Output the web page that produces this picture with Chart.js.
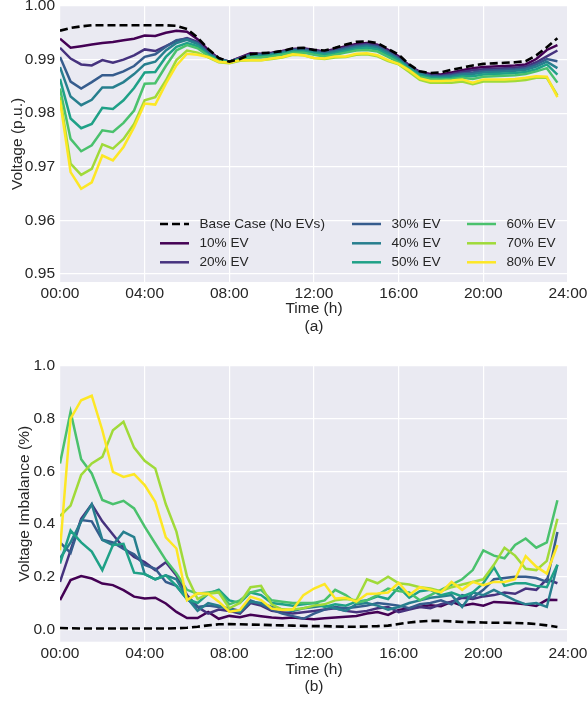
<!DOCTYPE html>
<html>
<head>
<meta charset="utf-8">
<script src="https://cdn.jsdelivr.net/npm/chart.js@4.4.1/dist/chart.umd.min.js"></script>
<style>
  html, body { margin: 0; padding: 0; background: #fff; }
  #wrap { position: relative; width: 588px; height: 701px; }
  canvas { position: absolute; left: 0; }
</style>
</head>
<body>
<div id="wrap">
  <canvas id="chartA" width="588" height="350" style="top:0px"></canvas>
  <canvas id="chartB" width="588" height="351" style="top:350px"></canvas>
</div>
<script>
// time axis (h), one point every 30 min
const hours = [0, 0.5, 1, 1.5, 2, 2.5, 3, 3.5, 4, 4.5, 5, 5.5,
  6, 6.5, 7, 7.5, 8, 8.5, 9, 9.5, 10, 10.5, 11, 11.5,
  12, 12.5, 13, 13.5, 14, 14.5, 15, 15.5, 16, 16.5, 17, 17.5,
  18, 18.5, 19, 19.5, 20, 20.5, 21, 21.5, 22, 22.5, 23, 23.5];

const xTickVals = [0, 4, 8, 12, 16, 20, 24];
const xTickLabels = ['00:00', '04:00', '08:00', '12:00', '16:00', '20:00', '24:00'];
const yTickValsA = [0.95, 0.96, 0.97, 0.98, 0.99, 1.00];
const yTickLabelsA = ['0.95', '0.96', '0.97', '0.98', '0.99', '1.00'];
const yTickValsB = [0, 0.2, 0.4, 0.6, 0.8, 1.0];
const yTickLabelsB = ['0.0', '0.2', '0.4', '0.6', '0.8', '1.0'];

const seriesNames = ['Base Case (No EVs)', '10% EV', '20% EV', '30% EV', '40% EV', '50% EV', '60% EV', '70% EV', '80% EV'];
const seriesColors = ['#000000', '#440154', '#46327e', '#365c8d', '#277f8e', '#1fa187', '#4ac16d', '#a0da39', '#fde725'];

// (a) voltage, p.u.
const voltBase = [0.9954, 0.9959, 0.9962, 0.9964, 0.9964, 0.9964, 0.9964, 0.9964, 0.9964, 0.9964, 0.9964, 0.9963,
  0.9957, 0.9941, 0.9920, 0.9903, 0.9896, 0.9901, 0.9910, 0.9912, 0.9913, 0.9916, 0.9921, 0.9922,
  0.9918, 0.9917, 0.9922, 0.9928, 0.9933, 0.9934, 0.9931, 0.9920, 0.9909, 0.9891, 0.9878, 0.9875,
  0.9876, 0.9881, 0.9885, 0.9889, 0.9892, 0.9893, 0.9894, 0.9895, 0.9897, 0.9908, 0.9923, 0.9940];
const volt10 = [0.9939, 0.9922, 0.9925, 0.9928, 0.9931, 0.9933, 0.9936, 0.9939, 0.9945, 0.9944, 0.9950, 0.9954,
  0.9952, 0.9938, 0.9918, 0.9902, 0.9896, 0.9904, 0.9912, 0.9911, 0.9913, 0.9916, 0.9920, 0.9921,
  0.9918, 0.9915, 0.9920, 0.9925, 0.9929, 0.9931, 0.9928, 0.9918, 0.9906, 0.9889, 0.9877, 0.9873,
  0.9872, 0.9876, 0.9880, 0.9884, 0.9886, 0.9887, 0.9888, 0.9889, 0.9891, 0.9901, 0.9918, 0.9927];
const volt20 = [0.9922, 0.9902, 0.9891, 0.9889, 0.9899, 0.9894, 0.9900, 0.9908, 0.9919, 0.9916, 0.9925, 0.9935,
  0.9940, 0.9933, 0.9915, 0.9901, 0.9896, 0.9903, 0.9910, 0.9910, 0.9912, 0.9915, 0.9919, 0.9920,
  0.9917, 0.9914, 0.9918, 0.9923, 0.9927, 0.9929, 0.9926, 0.9916, 0.9904, 0.9888, 0.9876, 0.9871,
  0.9870, 0.9873, 0.9877, 0.9880, 0.9882, 0.9883, 0.9884, 0.9885, 0.9887, 0.9895, 0.9906, 0.9917];
const volt30 = [0.9905, 0.9859, 0.9846, 0.9858, 0.9871, 0.9871, 0.9878, 0.9888, 0.9905, 0.9910, 0.9924, 0.9936,
  0.9939, 0.9931, 0.9913, 0.9901, 0.9896, 0.9902, 0.9909, 0.9909, 0.9911, 0.9914, 0.9918, 0.9919,
  0.9915, 0.9913, 0.9916, 0.9921, 0.9925, 0.9927, 0.9924, 0.9914, 0.9902, 0.9886, 0.9874, 0.9870,
  0.9869, 0.9871, 0.9874, 0.9876, 0.9879, 0.9880, 0.9881, 0.9882, 0.9884, 0.9891, 0.9901, 0.9897];
const volt40 = [0.9886, 0.9831, 0.9815, 0.9825, 0.9848, 0.9848, 0.9858, 0.9873, 0.9891, 0.9896, 0.9917, 0.9931,
  0.9937, 0.9929, 0.9911, 0.9900, 0.9896, 0.9901, 0.9908, 0.9908, 0.9910, 0.9913, 0.9917, 0.9917,
  0.9914, 0.9911, 0.9915, 0.9919, 0.9923, 0.9925, 0.9922, 0.9912, 0.9900, 0.9885, 0.9873, 0.9868,
  0.9867, 0.9869, 0.9872, 0.9873, 0.9876, 0.9877, 0.9878, 0.9879, 0.9881, 0.9887, 0.9896, 0.9884];
const volt50 = [0.9864, 0.9790, 0.9772, 0.9780, 0.9810, 0.9808, 0.9824, 0.9847, 0.9876, 0.9877, 0.9905, 0.9924,
  0.9931, 0.9925, 0.9909, 0.9899, 0.9895, 0.9900, 0.9906, 0.9906, 0.9908, 0.9911, 0.9915, 0.9915,
  0.9912, 0.9909, 0.9912, 0.9916, 0.9920, 0.9922, 0.9919, 0.9909, 0.9898, 0.9883, 0.9871, 0.9866,
  0.9865, 0.9866, 0.9869, 0.9869, 0.9872, 0.9873, 0.9874, 0.9875, 0.9877, 0.9882, 0.9891, 0.9872];
const volt60 = [0.9846, 0.9752, 0.9729, 0.9740, 0.9768, 0.9765, 0.9782, 0.9805, 0.9855, 0.9856, 0.9888, 0.9917,
  0.9927, 0.9921, 0.9907, 0.9898, 0.9894, 0.9899, 0.9904, 0.9904, 0.9906, 0.9909, 0.9913, 0.9913,
  0.9909, 0.9906, 0.9909, 0.9913, 0.9917, 0.9918, 0.9915, 0.9905, 0.9895, 0.9881, 0.9868, 0.9864,
  0.9863, 0.9864, 0.9866, 0.9864, 0.9868, 0.9869, 0.9870, 0.9871, 0.9873, 0.9878, 0.9884, 0.9857];
const volt70 = [0.9830, 0.9706, 0.9685, 0.9696, 0.9742, 0.9734, 0.9752, 0.9780, 0.9824, 0.9830, 0.9861, 0.9899,
  0.9917, 0.9913, 0.9904, 0.9895, 0.9893, 0.9898, 0.9899, 0.9899, 0.9901, 0.9904, 0.9909, 0.9908,
  0.9903, 0.9901, 0.9904, 0.9905, 0.9909, 0.9910, 0.9906, 0.9897, 0.9891, 0.9877, 0.9862, 0.9857,
  0.9857, 0.9857, 0.9859, 0.9854, 0.9859, 0.9859, 0.9859, 0.9860, 0.9862, 0.9866, 0.9866, 0.9833];
const volt80 = [0.9824, 0.9690, 0.9659, 0.9671, 0.9721, 0.9712, 0.9737, 0.9774, 0.9818, 0.9816, 0.9855, 0.9889,
  0.9911, 0.9909, 0.9905, 0.9896, 0.9894, 0.9899, 0.9899, 0.9899, 0.9902, 0.9905, 0.9910, 0.9908,
  0.9903, 0.9902, 0.9906, 0.9906, 0.9911, 0.9912, 0.9908, 0.9899, 0.9892, 0.9880, 0.9865, 0.9860,
  0.9860, 0.9861, 0.9863, 0.9857, 0.9863, 0.9863, 0.9863, 0.9864, 0.9866, 0.9869, 0.9868, 0.9830];

// (b) voltage imbalance, %
const imbBase = [0.005, 0.004, 0.003, 0.003, 0.003, 0.003, 0.003, 0.003, 0.003, 0.003, 0.003, 0.004,
  0.006, 0.010, 0.015, 0.019, 0.020, 0.019, 0.018, 0.017, 0.016, 0.015, 0.014, 0.013,
  0.012, 0.012, 0.011, 0.010, 0.010, 0.011, 0.012, 0.014, 0.020, 0.026, 0.030, 0.032,
  0.032, 0.030, 0.028, 0.027, 0.026, 0.025, 0.025, 0.024, 0.023, 0.020, 0.015, 0.009];
const imb10 = [0.111, 0.187, 0.202, 0.193, 0.174, 0.168, 0.149, 0.124, 0.117, 0.120, 0.098, 0.066,
  0.043, 0.043, 0.066, 0.040, 0.051, 0.046, 0.055, 0.050, 0.045, 0.042, 0.045, 0.041,
  0.038, 0.042, 0.045, 0.048, 0.051, 0.060, 0.066, 0.055, 0.074, 0.080, 0.086, 0.091,
  0.088, 0.104, 0.090, 0.097, 0.090, 0.104, 0.102, 0.099, 0.095, 0.089, 0.112, 0.111];
const imb20 = [0.180, 0.300, 0.420, 0.475, 0.410, 0.360, 0.310, 0.275, 0.255, 0.225, 0.255, 0.205,
  0.130, 0.085, 0.060, 0.075, 0.070, 0.060, 0.100, 0.090, 0.070, 0.065, 0.060, 0.065,
  0.070, 0.075, 0.080, 0.070, 0.065, 0.070, 0.080, 0.085, 0.065, 0.075, 0.085, 0.080,
  0.095, 0.105, 0.120, 0.115, 0.125, 0.130, 0.140, 0.135, 0.155, 0.150, 0.190, 0.175];
const imb30 = [0.330, 0.290, 0.415, 0.410, 0.340, 0.330, 0.305, 0.285, 0.245, 0.230, 0.180, 0.165,
  0.115, 0.085, 0.090, 0.085, 0.080, 0.070, 0.110, 0.095, 0.075, 0.060, 0.050, 0.040,
  0.060, 0.075, 0.085, 0.080, 0.085, 0.090, 0.100, 0.095, 0.090, 0.080, 0.095, 0.100,
  0.110, 0.095, 0.130, 0.120, 0.150, 0.190, 0.195, 0.200, 0.200, 0.195, 0.180, 0.370];
const imb40 = [0.270, 0.330, 0.410, 0.475, 0.340, 0.320, 0.370, 0.350, 0.210, 0.190, 0.205, 0.190,
  0.120, 0.070, 0.100, 0.090, 0.075, 0.065, 0.105, 0.100, 0.085, 0.075, 0.070, 0.080,
  0.085, 0.090, 0.080, 0.070, 0.095, 0.100, 0.090, 0.075, 0.085, 0.100, 0.110, 0.120,
  0.125, 0.130, 0.085, 0.140, 0.130, 0.150, 0.130, 0.110, 0.095, 0.100, 0.085, 0.245];
const imb50 = [0.250, 0.375, 0.330, 0.295, 0.225, 0.320, 0.325, 0.215, 0.210, 0.190, 0.205, 0.165,
  0.115, 0.100, 0.135, 0.150, 0.110, 0.100, 0.140, 0.130, 0.100, 0.095, 0.090, 0.095,
  0.100, 0.085, 0.095, 0.090, 0.105, 0.110, 0.125, 0.115, 0.160, 0.120, 0.145, 0.150,
  0.130, 0.140, 0.125, 0.140, 0.175, 0.235, 0.165, 0.175, 0.175, 0.165, 0.160, 0.245];
const imb60 = [0.630, 0.826, 0.646, 0.592, 0.491, 0.475, 0.488, 0.459, 0.390, 0.326, 0.263, 0.212,
  0.150, 0.135, 0.140, 0.145, 0.095, 0.110, 0.140, 0.150, 0.110, 0.105, 0.100, 0.100,
  0.100, 0.110, 0.150, 0.130, 0.100, 0.110, 0.130, 0.155, 0.145, 0.140, 0.110, 0.130,
  0.150, 0.170, 0.190, 0.225, 0.300, 0.280, 0.270, 0.320, 0.345, 0.310, 0.330, 0.490];
const imb70 = [0.430, 0.470, 0.586, 0.630, 0.655, 0.756, 0.788, 0.690, 0.640, 0.611, 0.475, 0.371,
  0.200, 0.115, 0.135, 0.140, 0.080, 0.100, 0.160, 0.165, 0.095, 0.075, 0.075, 0.080,
  0.090, 0.095, 0.110, 0.115, 0.110, 0.190, 0.175, 0.200, 0.175, 0.170, 0.160, 0.155,
  0.145, 0.160, 0.170, 0.180, 0.190, 0.245, 0.310, 0.280, 0.230, 0.225, 0.260, 0.420];
const imb80 = [0.300, 0.800, 0.870, 0.887, 0.756, 0.598, 0.579, 0.589, 0.548, 0.484, 0.349, 0.307,
  0.111, 0.137, 0.135, 0.105, 0.067, 0.073, 0.124, 0.111, 0.079, 0.073, 0.075, 0.130,
  0.155, 0.172, 0.117, 0.120, 0.105, 0.134, 0.136, 0.140, 0.177, 0.130, 0.160, 0.150,
  0.140, 0.180, 0.150, 0.180, 0.168, 0.180, 0.180, 0.190, 0.278, 0.238, 0.212, 0.320];

const fontFamily = "'Liberation Sans', Arial, sans-serif";
const textColor = '#262626';

// seaborn-like grey plot background
const areaBg = {
  id: 'areaBg',
  beforeDraw: (chart) => {
    const { ctx, chartArea: a } = chart;
    ctx.save();
    ctx.fillStyle = '#EAEAF2';
    ctx.fillRect(a.left, a.top, a.right - a.left, a.bottom - a.top);
    ctx.restore();
  }
};

// legend in 3 columns, filled column by column
const legendCols = [160, 352, 467];
const legendRows = [224, 243.3, 262.3];
const colLegend = {
  id: 'colLegend',
  afterDraw: (chart) => {
    const ctx = chart.ctx;
    ctx.save();
    ctx.font = '13.6px ' + fontFamily;
    ctx.textBaseline = 'middle';
    ctx.textAlign = 'left';
    chart.data.datasets.forEach((ds, i) => {
      const x = legendCols[Math.floor(i / 3)];
      const y = legendRows[i % 3];
      ctx.strokeStyle = ds.borderColor;
      ctx.lineWidth = ds.borderWidth;
      ctx.setLineDash(ds.borderDash);
      ctx.beginPath();
      ctx.moveTo(x, y);
      ctx.lineTo(x + 29, y);
      ctx.stroke();
      ctx.setLineDash([]);
      ctx.fillStyle = textColor;
      ctx.fillText(ds.label, x + 39.5, y);
    });
    ctx.restore();
  }
};

const makeDatasets = (seriesList) => seriesList.map((vals, i) => ({
  label: seriesNames[i],
  data: vals.map((v, j) => ({ x: hours[j], y: v })),
  borderColor: seriesColors[i],
  borderWidth: i === 0 ? 2.6 : 2.5,
  borderDash: i === 0 ? [8, 4] : [],
  pointRadius: 0,
  tension: 0,
  fill: false,
  order: i === 0 ? 0 : 9 - i
}));

const makeOptions = (o) => ({
  responsive: false,
  animation: false,
  layout: { padding: { top: o.top, right: 20, bottom: 0, left: 0 } },
  plugins: { legend: { display: false }, tooltip: { enabled: false } },
  scales: {
    x: {
      type: 'linear',
      min: 0,
      max: 24,
      afterBuildTicks: (s) => { s.ticks = xTickVals.map(v => ({ value: v })); },
      afterFit: (s) => { s.height = o.xHeight; s.paddingLeft = 0; s.paddingRight = 0; },
      ticks: {
        autoSkip: false,
        maxRotation: 0,
        padding: 2.5,
        color: textColor,
        font: { family: fontFamily, size: 15.5 },
        callback: (v, idx) => xTickLabels[idx]
      },
      grid: { color: '#ffffff', lineWidth: 1.2, drawTicks: false },
      border: { display: false },
      title: {
        display: true,
        text: ['Time (h)', o.tag],
        color: textColor,
        font: { family: fontFamily, size: 15.5, lineHeight: 1.15 },
        padding: { top: 0, bottom: o.xTitlePad }
      }
    },
    y: {
      type: 'linear',
      min: o.yMin,
      max: o.yMax,
      afterBuildTicks: (s) => { s.ticks = o.yVals.map(v => ({ value: v })); },
      afterFit: (s) => { s.width = 60; s.paddingTop = 0; s.paddingBottom = 0; },
      ticks: {
        autoSkip: false,
        padding: 5,
        color: textColor,
        font: { family: fontFamily, size: 15.5 },
        callback: (v, idx) => o.yLabels[idx]
      },
      grid: { color: '#ffffff', lineWidth: 1.2, drawTicks: false },
      border: { display: false },
      title: {
        display: true,
        text: o.yTitle,
        color: textColor,
        font: { family: fontFamily, size: 15.5, lineHeight: 1.2 },
        padding: { top: o.yTitlePad, bottom: 0 }
      }
    }
  }
});

new Chart(document.getElementById('chartA'), {
  type: 'line',
  data: { datasets: makeDatasets([voltBase, volt10, volt20, volt30, volt40, volt50, volt60, volt70, volt80]) },
  options: makeOptions({
    top: 6, xHeight: 68, xTitlePad: 14.8, tag: '(a)',
    yMin: 0.9485, yMax: 1.0, yVals: yTickValsA, yLabels: yTickLabelsA,
    yTitle: 'Voltage (p.u.)', yTitlePad: 8.2
  }),
  plugins: [areaBg, colLegend]
});

new Chart(document.getElementById('chartB'), {
  type: 'line',
  data: { datasets: makeDatasets([imbBase, imb10, imb20, imb30, imb40, imb50, imb60, imb70, imb80]) },
  options: makeOptions({
    top: 16, xHeight: 59.3, xTitlePad: 5, tag: '(b)',
    yMin: -0.047, yMax: 1.0, yVals: yTickValsB, yLabels: yTickLabelsB,
    yTitle: 'Voltage Imbalance (%)', yTitlePad: 15.2
  }),
  plugins: [areaBg]
});
</script>
</body>
</html>
